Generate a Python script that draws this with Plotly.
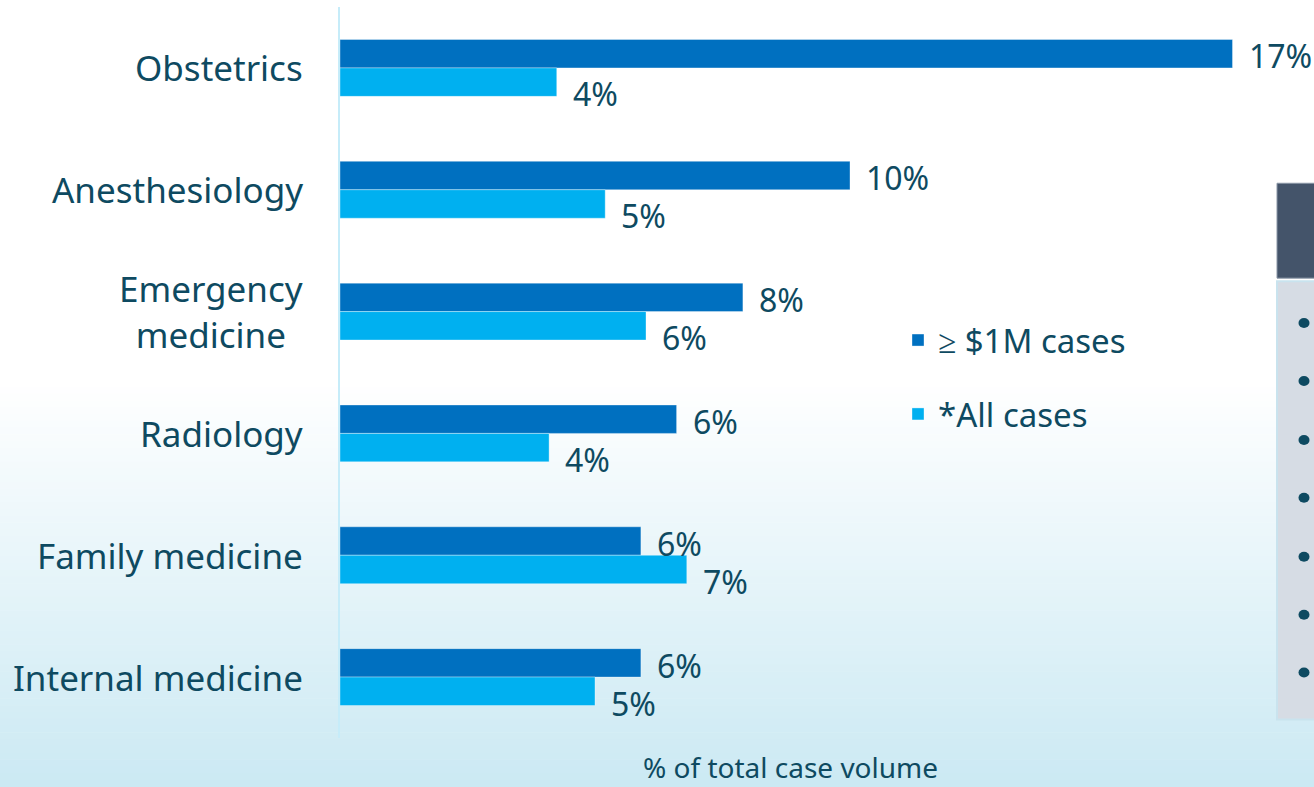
import plotly.graph_objects as go

# ---------------- data ----------------
categories = ["Obstetrics", "Anesthesiology", "Emergency medicine", "Radiology",
              "Family medicine", "Internal medicine"]
category_labels = ["Obstetrics", "Anesthesiology", "Emergency<br>medicine", "Radiology",
                   "Family medicine", "Internal medicine"]
series_names = ["\u2265 $1M cases", "*All cases"]
large_cases = [17.5, 10.0, 7.9, 6.6, 5.9, 5.9]
all_cases = [4.25, 5.2, 6.0, 4.1, 6.8, 5.0]
large_labels = ["17%", "10%", "8%", "6%", "6%", "6%"]
all_labels = ["4%", "5%", "6%", "4%", "7%", "5%"]
axis_title = "% of total case volume"

# ---------------- style ----------------
W, H = 1314, 787
ML, MR, MT, MB = 340, 0, 6.5, 48.5
PW, PH = W - ML - MR, H - MT - MB
TEXT = "#0E4A61"
DARK = "#0070C0"
LIGHT = "#00B0F0"
FONT = "Noto Sans"
PX_PER_UNIT = 51.0


def px(x):
    return (x - ML) / PW


def py(y):
    return (H - MB - y) / PH


fig = go.Figure()
fig.add_trace(go.Bar(y=categories, x=large_cases, orientation="h", name=series_names[0],
                     marker=dict(color=DARK, line=dict(color="rgba(255,255,255,0.35)", width=1)),
                     legendgroup="a", hoverinfo="skip"))
fig.add_trace(go.Bar(y=categories, x=all_cases, orientation="h", name=series_names[1],
                     marker=dict(color=LIGHT, line=dict(color="rgba(255,255,255,0.35)", width=1)),
                     legendgroup="b", hoverinfo="skip"))

annotations = []
for cat, lab in zip(categories, category_labels):
    annotations.append(dict(x=0, xref="paper", y=cat, yref="y", text=lab, showarrow=False,
                            xanchor="right", yanchor="middle", xshift=-35, align="center",
                            font=dict(family=FONT, size=35, color=TEXT)))
for cat, v, t in zip(categories, large_cases, large_labels):
    annotations.append(dict(x=v, y=cat, text=t, showarrow=False, xanchor="left",
                            yanchor="middle", xshift=14, yshift=12,
                            font=dict(family=FONT, size=32, color=TEXT)))
for cat, v, t in zip(categories, all_cases, all_labels):
    annotations.append(dict(x=v, y=cat, text=t, showarrow=False, xanchor="left",
                            yanchor="middle", xshift=14, yshift=-26,
                            font=dict(family=FONT, size=32, color=TEXT)))
annotations.append(dict(x=px(790), xref="paper", y=py(768), yref="paper", text=axis_title,
                        showarrow=False, xanchor="center", yanchor="middle",
                        font=dict(family=FONT, size=28, color=TEXT)))

# ---------------- decorative background (gradient + side panel) ----------------
shapes = []
g0, g1 = 380, H
top_c = (255, 255, 255)
bot_c = (203, 233, 243)
n = 60
for i in range(n):
    y0 = g0 + (g1 - g0) * i / n
    y1 = g0 + (g1 - g0) * (i + 1) / n
    f = (i + 0.5) / n
    c = tuple(round(top_c[k] + (bot_c[k] - top_c[k]) * f) for k in range(3))
    shapes.append(dict(type="rect", xref="paper", yref="paper", x0=px(0), x1=px(W),
                       y0=py(y1 + 0.5), y1=py(y0), fillcolor="rgb(%d,%d,%d)" % c,
                       line=dict(width=0), layer="below"))
# side panel
shapes.append(dict(type="rect", xref="paper", yref="paper", x0=px(1277), x1=px(W + 5),
                   y0=py(720), y1=py(281), fillcolor="#D6DCE4",
                   line=dict(color="#C9E3EE", width=2), layer="below"))
shapes.append(dict(type="rect", xref="paper", yref="paper", x0=px(1277), x1=px(W + 5),
                   y0=py(278), y1=py(183), fillcolor="#44546A",
                   line=dict(color="#8A96A6", width=1), layer="below"))
for by in [323, 381, 440, 498, 557, 615, 673]:
    shapes.append(dict(type="circle", xref="paper", yref="paper", x0=px(1298.5), x1=px(1309.5),
                       y0=py(by + 5), y1=py(by - 5), fillcolor=TEXT, line=dict(width=0),
                       layer="below"))

fig.update_layout(
    width=W, height=H,
    margin=dict(l=ML, r=MR, t=MT, b=MB, pad=0),
    paper_bgcolor="white", plot_bgcolor="rgba(0,0,0,0)",
    barmode="group", bargap=0.533, bargroupgap=0,
    font=dict(family=FONT, color=TEXT),
    xaxis=dict(range=[0, PW / PX_PER_UNIT], showticklabels=False, showgrid=False,
               zeroline=False, showline=False, fixedrange=True),
    yaxis=dict(autorange="reversed", showticklabels=False, ticks="", showgrid=False,
               zeroline=False, showline=True, linecolor="#C6ECF9", linewidth=2,
               fixedrange=True),
    legend=dict(x=px(898), y=py(312), xanchor="left", yanchor="top",
                bgcolor="rgba(0,0,0,0)", font=dict(family=FONT, size=33, color=TEXT),
                tracegroupgap=28, itemclick=False, itemdoubleclick=False),
    showlegend=True,
    annotations=annotations,
    shapes=shapes,
)

fig.write_html("out.html")
